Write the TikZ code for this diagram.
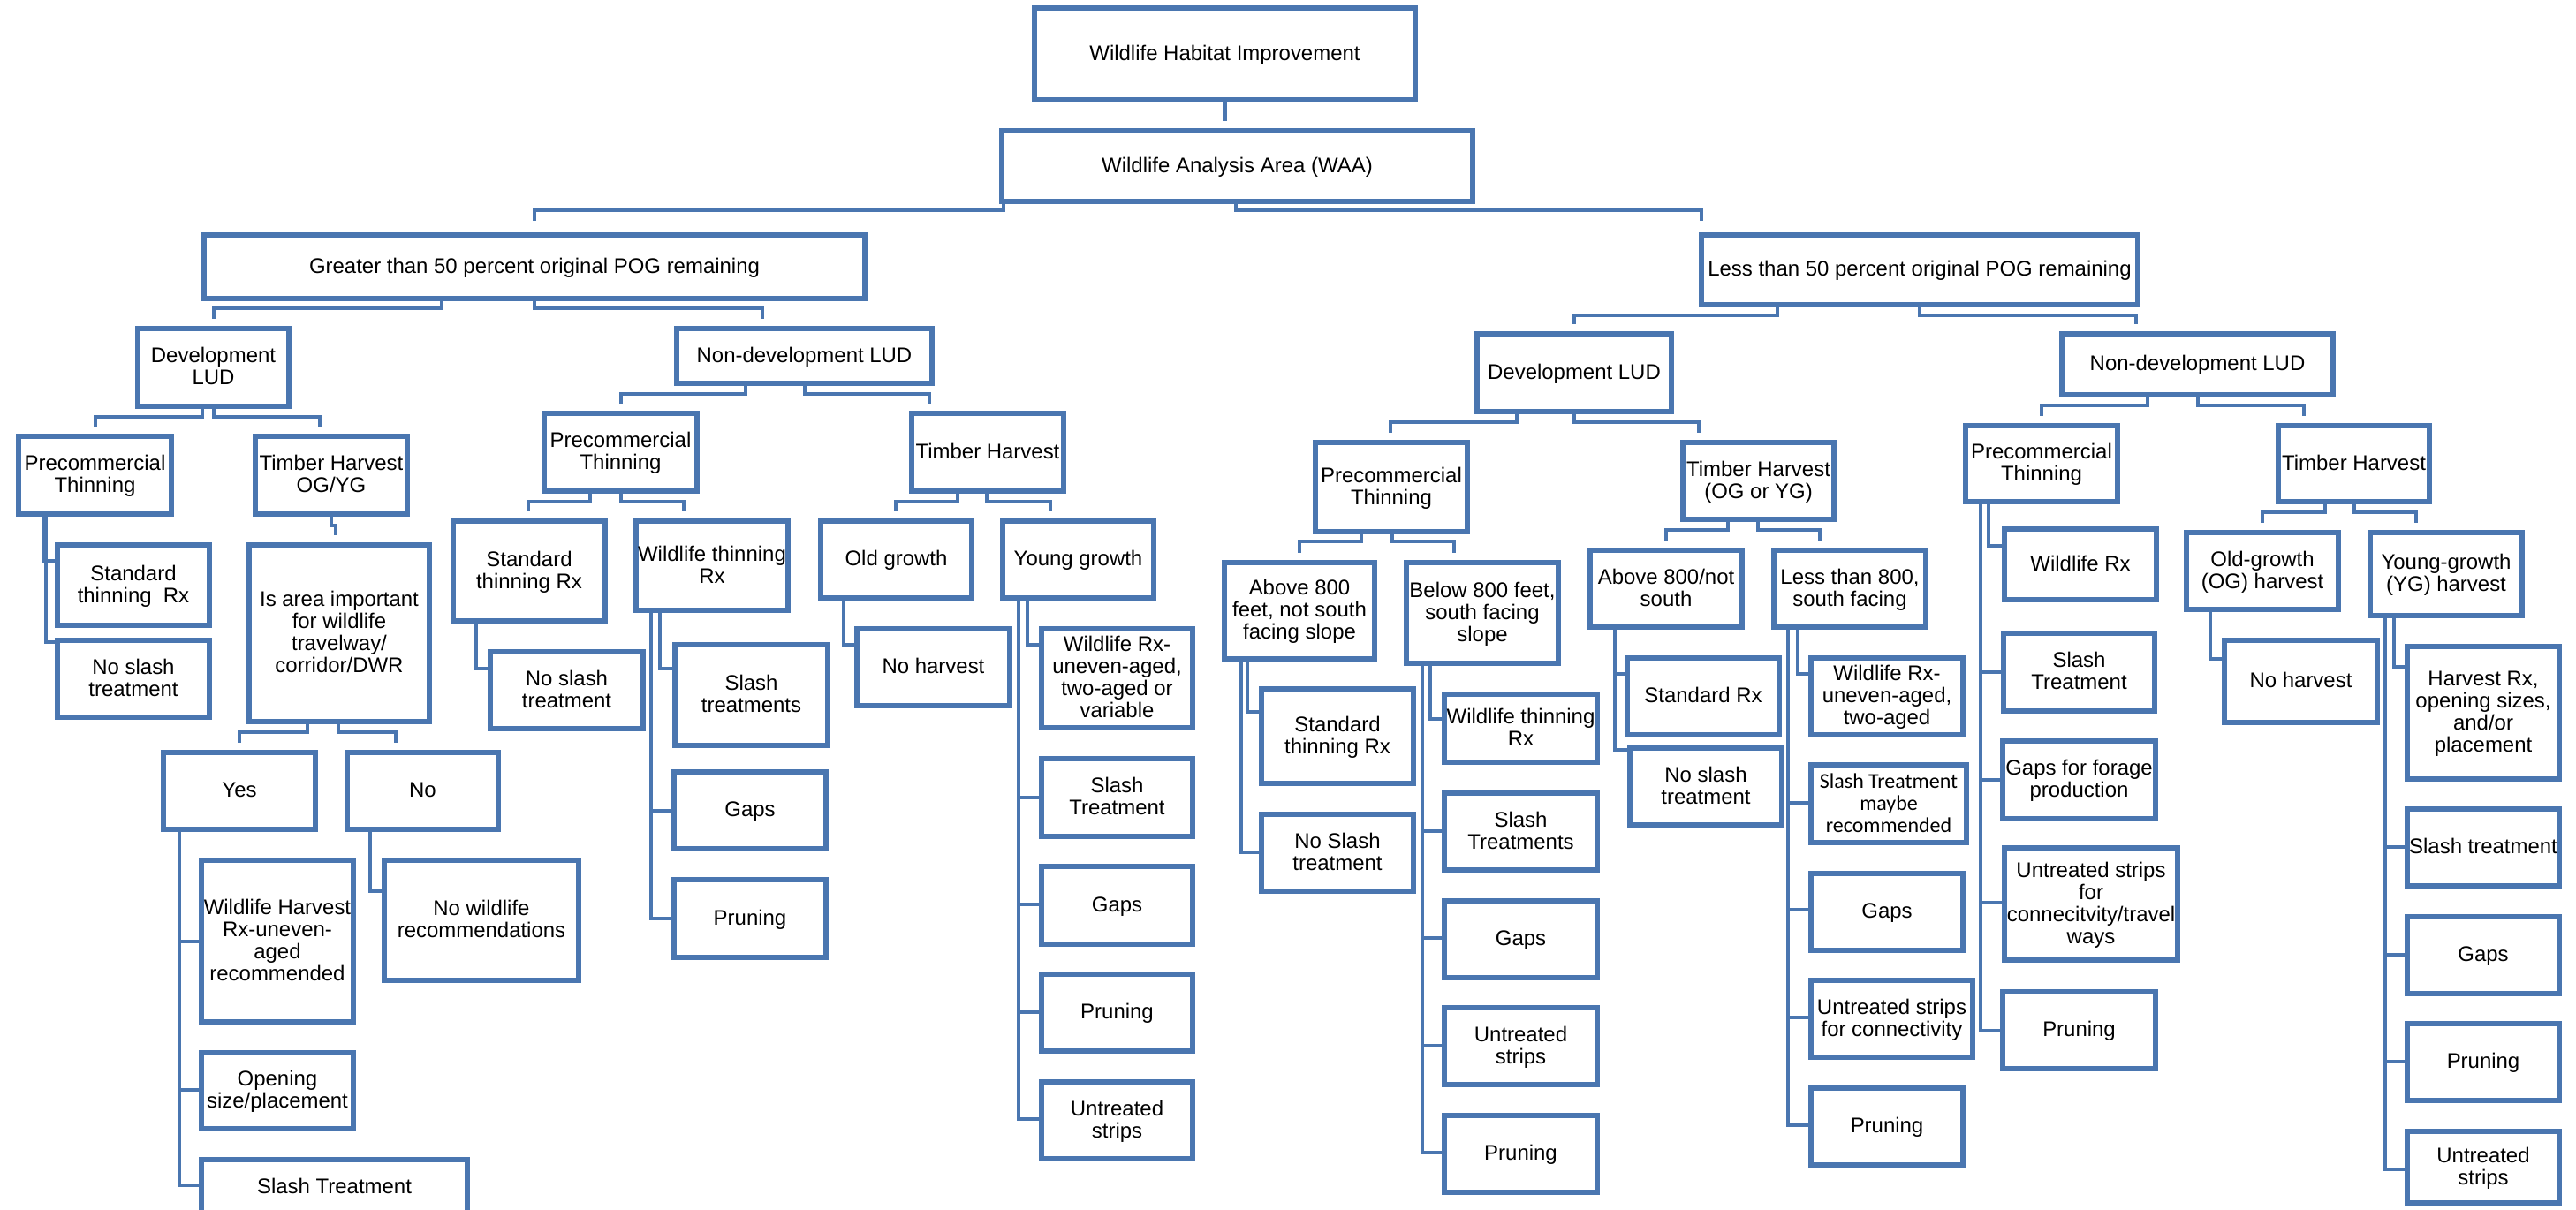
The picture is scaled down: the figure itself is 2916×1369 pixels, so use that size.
\documentclass[tikz,border=0pt]{standalone}
\usepackage{fontspec}
\setmainfont{Liberation Sans}
\newfontfamily\calib{Carlito}
\definecolor{ln}{RGB}{74,118,176}
\tikzset{
  box/.style={draw=ln, line width=2.2pt, fill=white, inner sep=0pt, outer sep=0pt,
    font=\fontsize{10.3pt}{10.75pt}\selectfont},
  conn/.style={draw=ln, line width=1.9pt},
}
% box: name, x1, y1, x2, y2, text   (units: reference pixels)
\newcommand\bx[6]{\node[box, minimum width={(#4-#2)*0.43pt}, minimum height={(#5-#3)*0.43pt}] (#1) at ({(#2+#4)/2},{(#3+#5)/2}) {\makebox[0pt]{\raisebox{-1pt}[\height][\depth]{\begin{tabular}{@{}c@{}}#6\end{tabular}}}};}
% elbow connector: [gap] parent, x at parent, y of horizontal, x at child, child
\newcommand\elb[6][4.7pt]{\draw[conn, shorten >=#1] (#2.south -| #3,0) -- (#3,#4) -| (#6.north -| #5,0);}
% L connector: parent, x of vertical, y of stub, child
\newcommand\lcn[4]{\draw[conn] (#1.south -| #2,0) |- (#4.west |- 0,#3);}
\begin{document}
\begin{tikzpicture}[x=0.43pt, y=-0.43pt]
\useasboundingbox (0,0) rectangle (2916,1369);
\fill[white] (0,0) rectangle (2916,1369);
\clip (0,0) rectangle (2916,1369);
% ---------- top ----------
\bx{whi}{1171}{9}{1602}{113}{Wildlife Habitat Improvement}
\bx{waa}{1134}{148}{1667}{228}{Wildlife Analysis Area (WAA)}
\bx{gt}{231}{266}{979}{338}{Greater than 50 percent original POG remaining}
\bx{lt}{1926}{266}{2420}{345}{Less than 50 percent original POG remaining}
% ---------- left half ----------
\bx{dl}{156}{372}{327}{460}{Development\\LUD}
\bx{nl}{766}{372}{1055}{434}{Non-development LUD}
\bx{dlpt}{21}{494}{194}{582}{Precommercial\\Thinning}
\bx{dlth}{289}{494}{461}{582}{Timber Harvest\\OG/YG}
\bx{dlstd}{65}{617}{237}{708}{Standard\\thinning\ \ Rx}
\bx{dlnos}{65}{725}{237}{812}{No slash\\treatment}
\bx{isa}{282}{617}{486}{817}{Is area important\\for wildlife\\travelway/\\corridor/DWR}
\bx{yes}{185}{852}{357}{939}{Yes}
\bx{no}{393}{852}{564}{939}{No}
\bx{whr}{228}{974}{400}{1157}{Wildlife Harvest\\Rx-uneven-\\aged\\recommended}
\bx{opn}{228}{1192}{400}{1278}{Opening\\size/placement}
\bx{slt}{228}{1313}{529}{1375}{Slash Treatment}
\bx{nowr}{435}{974}{655}{1110}{No wildlife\\recommendations}
\bx{nlpt}{616}{468}{789}{556}{Precommercial\\Thinning}
\bx{nlth}{1032}{468}{1204}{556}{Timber Harvest}
\bx{nlstd}{513}{590}{685}{703}{Standard\\thinning Rx}
\bx{nlnos}{555}{738}{728}{825}{No slash\\treatment}
\bx{nlwt}{720}{590}{892}{691}{Wildlife thinning\\Rx}
\bx{nlsl}{764}{730}{937}{844}{Slash\\treatments}
\bx{nlgap}{763}{874}{935}{961}{Gaps}
\bx{nlpr}{763}{996}{935}{1084}{Pruning}
\bx{nlog}{929}{590}{1100}{677}{Old growth}
\bx{nlnoh}{970}{712}{1143}{799}{No harvest}
\bx{nlyg}{1135}{590}{1306}{677}{Young growth}
\bx{nlwr}{1179}{712}{1350}{824}{Wildlife Rx-\\uneven-aged,\\two-aged or\\variable}
\bx{nlsla}{1179}{859}{1350}{947}{Slash\\Treatment}
\bx{nlgapa}{1179}{981}{1350}{1069}{Gaps}
\bx{nlpra}{1179}{1103}{1350}{1190}{Pruning}
\bx{nlut}{1179}{1225}{1350}{1312}{Untreated\\strips}
% ---------- right half ----------
\bx{dr}{1672}{378}{1892}{466}{Development LUD}
\bx{nr}{2334}{378}{2641}{447}{Non-development LUD}
\bx{drpt}{1489}{501}{1661}{602}{Precommercial\\Thinning}
\bx{drth}{1905}{501}{2076}{588}{Timber Harvest\\(OG or YG)}
\bx{abe}{1386}{637}{1556}{746}{Above 800\\feet, not south\\facing slope}
\bx{bee}{1592}{637}{1764}{751}{Below 800 feet,\\south facing\\slope}
\bx{abestd}{1428}{780}{1600}{887}{Standard\\thinning Rx}
\bx{abenos}{1428}{922}{1600}{1009}{No Slash\\treatment}
\bx{beewt}{1635}{786}{1808}{863}{Wildlife thinning\\Rx}
\bx{beesl}{1635}{898}{1808}{985}{Slash\\Treatments}
\bx{beegap}{1635}{1020}{1808}{1107}{Gaps}
\bx{beeut}{1635}{1141}{1808}{1228}{Untreated\\strips}
\bx{beepr}{1635}{1263}{1808}{1350}{Pruning}
\bx{aben}{1800}{623}{1972}{710}{Above 800/not\\south}
\bx{lte}{2008}{623}{2180}{710}{Less than 800,\\south facing}
\bx{abenstd}{1842}{745}{2014}{832}{Standard Rx}
\bx{abennos}{1845}{847}{2017}{934}{No slash\\treatment}
\bx{ltewr}{2050}{745}{2222}{832}{Wildlife Rx-\\uneven-aged,\\two-aged}
\bx{ltesl}{2050}{866}{2226}{954}{\calib\fontsize{10.3pt}{11.4pt}\selectfont Slash Treatment\\\calib\fontsize{10.3pt}{11.4pt}\selectfont maybe\\\calib\fontsize{10.3pt}{11.4pt}\selectfont recommended}
\bx{ltegap}{2050}{989}{2222}{1076}{Gaps}
\bx{lteut}{2050}{1110}{2233}{1197}{Untreated strips\\for connectivity}
\bx{ltepr}{2050}{1232}{2222}{1319}{Pruning}
\bx{nrpt}{2225}{482}{2397}{568}{Precommercial\\Thinning}
\bx{nrth}{2579}{482}{2750}{568}{Timber Harvest}
\bx{nrwr}{2269}{599}{2441}{679}{Wildlife Rx}
\bx{nrsl}{2268}{717}{2439}{805}{Slash\\Treatment}
\bx{nrgap}{2267}{839}{2440}{927}{Gaps for forage\\production}
\bx{nrut}{2269}{960}{2465}{1087}{Untreated strips\\for\\connecitvity/travel\\ways}
\bx{nrpr}{2267}{1123}{2440}{1210}{Pruning}
\bx{nrog}{2475}{603}{2647}{690}{Old-growth\\(OG) harvest}
\bx{nryg}{2683}{603}{2855}{697}{Young-growth\\(YG) harvest}
\bx{nrnoh}{2518}{725}{2691}{818}{No harvest}
\bx{nrhr}{2725}{732}{2897}{882}{Harvest Rx,\\opening sizes,\\and/or\\placement}
\bx{nrsla}{2725}{916}{2897}{1003}{Slash treatment}
\bx{nrgapa}{2725}{1038}{2897}{1125}{Gaps}
\bx{nrpra}{2725}{1159}{2897}{1246}{Pruning}
\bx{nruta}{2725}{1281}{2897}{1362}{Untreated\\strips}
% ---------- connectors ----------
\draw[conn, shorten >=4.7pt] (whi.south) -- (waa.north -| whi.south);
\elb[6.9pt]{waa}{1136}{238}{605}{gt}
\elb[6.9pt]{waa}{1399}{238}{1926}{lt}
\elb{gt}{500}{349}{242}{dl}
\elb{gt}{605}{349}{863}{nl}
\elb{dl}{229}{472}{108}{dlpt}
\elb{dl}{242}{472}{362}{dlth}
\elb{dlth}{375}{595}{380}{isa}
\lcn{dlpt}{49}{635}{dlstd}
\lcn{dlpt}{52}{727}{dlnos}
\elb{isa}{348}{829}{271}{yes}
\elb{isa}{383}{829}{448}{no}
\lcn{yes}{203}{1066}{whr}
\lcn{yes}{203}{1234}{opn}
\lcn{yes}{203}{1342}{slt}
\lcn{no}{419}{1009}{nowr}
\elb{nl}{844}{446}{703}{nlpt}
\elb{nl}{911}{446}{1052}{nlth}
\elb{nlpt}{668}{568}{598}{nlstd}
\elb{nlpt}{703}{568}{774}{nlwt}
\elb{nlth}{1084}{568}{1014}{nlog}
\elb{nlth}{1117}{568}{1189}{nlyg}
\lcn{nlstd}{539}{757}{nlnos}
\lcn{nlwt}{747}{757}{nlsl}
\lcn{nlwt}{737}{918}{nlgap}
\lcn{nlwt}{737}{1040}{nlpr}
\lcn{nlog}{955}{730}{nlnoh}
\lcn{nlyg}{1163}{730}{nlwr}
\lcn{nlyg}{1153}{903}{nlsla}
\lcn{nlyg}{1153}{1024}{nlgapa}
\lcn{nlyg}{1153}{1146}{nlpra}
\lcn{nlyg}{1153}{1267}{nlut}
\elb{lt}{2012}{357}{1782}{dr}
\elb{lt}{2173}{357}{2418}{nr}
\elb{dr}{1717}{478}{1574}{drpt}
\elb{dr}{1782}{478}{1923}{drth}
\elb{drpt}{1541}{613}{1471}{abe}
\elb{drpt}{1576}{613}{1646}{bee}
\elb{drth}{1956}{600}{1886}{aben}
\elb{drth}{1990}{600}{2060}{lte}
\lcn{abe}{1412}{806}{abestd}
\lcn{abe}{1405}{965}{abenos}
\lcn{bee}{1619}{814}{beewt}
\lcn{bee}{1610}{941}{beesl}
\lcn{bee}{1610}{1062}{beegap}
\lcn{bee}{1610}{1184}{beeut}
\lcn{bee}{1610}{1305}{beepr}
\lcn{aben}{1828}{763}{abenstd}
\lcn{aben}{1828}{849}{abennos}
\lcn{lte}{2035}{763}{ltewr}
\lcn{lte}{2024}{909}{ltesl}
\lcn{lte}{2024}{1030}{ltegap}
\lcn{lte}{2024}{1152}{lteut}
\lcn{lte}{2024}{1274}{ltepr}
\elb{nr}{2431}{459}{2311}{nrpt}
\elb{nr}{2488}{459}{2608}{nrth}
\elb{nrth}{2632}{580}{2561}{nrog}
\elb{nrth}{2665}{580}{2735}{nryg}
\lcn{nrpt}{2251}{618}{nrwr}
\lcn{nrpt}{2242}{761}{nrsl}
\lcn{nrpt}{2242}{883}{nrgap}
\lcn{nrpt}{2242}{1022}{nrut}
\lcn{nrpt}{2242}{1167}{nrpr}
\lcn{nrog}{2502}{746}{nrnoh}
\lcn{nryg}{2710}{755}{nrhr}
\lcn{nryg}{2700}{959}{nrsla}
\lcn{nryg}{2700}{1081}{nrgapa}
\lcn{nryg}{2700}{1202}{nrpra}
\lcn{nryg}{2700}{1324}{nruta}
\end{tikzpicture}
\end{document}
